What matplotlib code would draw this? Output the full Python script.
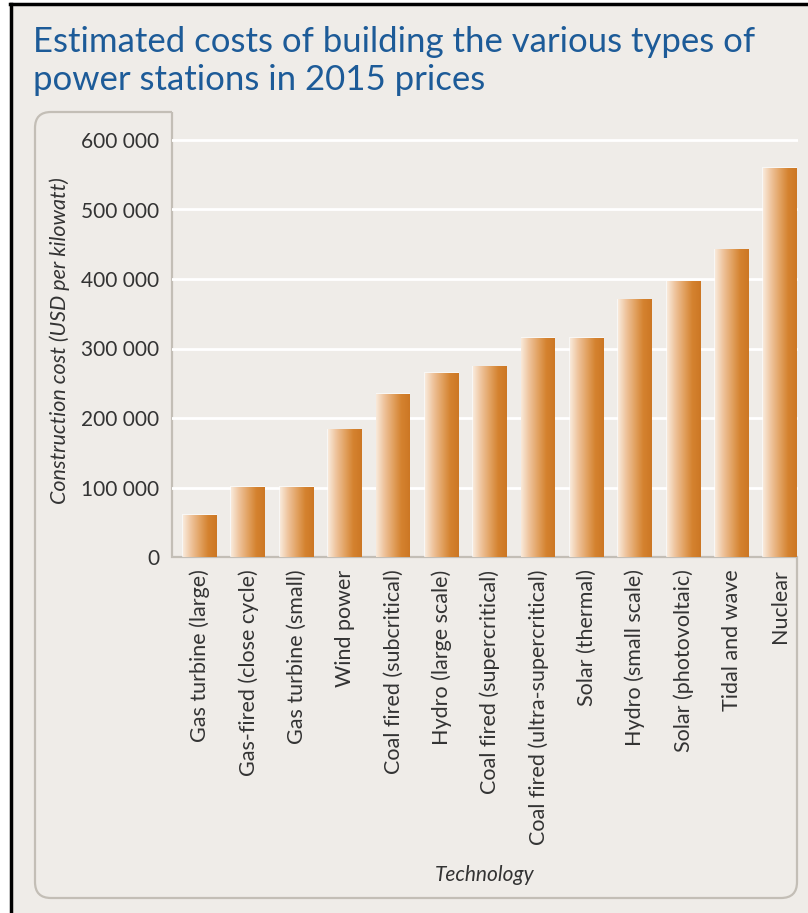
import numpy as np
import matplotlib
matplotlib.use("Agg")
import matplotlib.pyplot as plt
from matplotlib.path import Path
from matplotlib.patches import PathPatch, Rectangle
from matplotlib.colors import LinearSegmentedColormap

plt.rcParams['font.family'] = ['Lato', 'DejaVu Sans']

technologies = [
    "Gas turbine (large)", "Gas-fired (close cycle)", "Gas turbine (small)",
    "Wind power", "Coal fired (subcritical)", "Hydro (large scale)",
    "Coal fired (supercritical)", "Coal fired (ultra-supercritical)",
    "Solar (thermal)", "Hydro (small scale)", "Solar (photovoltaic)",
    "Tidal and wave", "Nuclear",
]
costs = [60000, 100000, 100000, 183000, 234000, 264000, 274000,
         315000, 315000, 370000, 397000, 442000, 559000]
y_ticks = [0, 100000, 200000, 300000, 400000, 500000, 600000]
y_labels = ["0", "100 000", "200 000", "300 000", "400 000", "500 000", "600 000"]

W, H = 808, 913
BG = "#efece8"
FRAME = "#c3beb6"
TXT = "#333333"


def fx(x):
    return x / W


def fy(y):
    return 1 - y / H


fig = plt.figure(figsize=(W / 100, H / 100), dpi=100, facecolor="white")

# panel background with black border on top and left
fig.patches.append(Rectangle((fx(12), 0), 1 - fx(12), fy(5), transform=fig.transFigure,
                             facecolor=BG, edgecolor="none", zorder=-5))
fig.add_artist(plt.Line2D([fx(11), fx(11)], [0, fy(4)], color="black", lw=2.5,
                          transform=fig.transFigure))
fig.add_artist(plt.Line2D([fx(10), 1], [fy(4.5), fy(4.5)], color="black", lw=2.5,
                          transform=fig.transFigure))

fig.text(fx(33), fy(42), "Estimated costs of building the various types of",
         color="#1d5b98", fontsize=25, va="center", ha="left")
fig.text(fx(33), fy(80), "power stations in 2015 prices",
         color="#1d5b98", fontsize=25, va="center", ha="left")

# axes area: x 172..798, y 112..557 (pixels)
ax_l, ax_r, ax_t, ax_b = 172, 798, 112, 557
ax = fig.add_axes([fx(ax_l), fy(ax_b), fx(ax_r - ax_l), (ax_b - ax_t) / H])
ax.set_facecolor("none")
ax.set_zorder(2)
for s in ax.spines.values():
    s.set_visible(False)

# frame outline (L-shaped rounded box)
r1, r2 = 16, 16
verts = [
    (ax_l, ax_t), (35 + r1, ax_t), (35, ax_t), (35, ax_t + r1),
    (35, 898 - r2), (35, 898), (35 + r2, 898),
    (797 - r2, 898), (797, 898), (797, 898 - r2),
    (797, ax_b), (ax_l, ax_b), (ax_l, ax_t),
]
codes = [Path.MOVETO, Path.LINETO, Path.CURVE3, Path.CURVE3,
         Path.LINETO, Path.CURVE3, Path.CURVE3,
         Path.LINETO, Path.CURVE3, Path.CURVE3,
         Path.LINETO, Path.LINETO, Path.LINETO]
verts = [(fx(x), fy(y)) for x, y in verts]
fig.patches.append(PathPatch(Path(verts, codes), transform=fig.transFigure,
                             facecolor="none", edgecolor=FRAME, lw=1.6, zorder=1))

x = np.arange(len(technologies))
ymax = 600000 * (ax_b - ax_t) / (ax_b - 140)

for t in y_ticks[1:]:
    ax.axhline(t, color="white", lw=2, zorder=1)

cmap = LinearSegmentedColormap.from_list(
    "bar", ["#f9eadb", "#eec29a", "#e2a262", "#d4822f", "#cc7724"])
grad = np.linspace(0, 1, 256).reshape(1, -1)
bars = ax.bar(x, costs, width=0.7, color="none", edgecolor="none", zorder=2)
for b in bars:
    x0, w, h = b.get_x(), b.get_width(), b.get_height()
    ax.add_patch(Rectangle((x0 - 0.02, 0), w + 0.02, h + 1500, facecolor="white",
                           edgecolor="none", alpha=0.6, zorder=2))
    ax.imshow(grad, extent=[x0, x0 + w, 0, h], aspect="auto", cmap=cmap,
              interpolation="bilinear", zorder=3)

ax.set_xlim(-0.58, 12.37)
ax.set_ylim(0, ymax)
ax.set_yticks(y_ticks)
ax.set_yticklabels(y_labels)
ax.set_xticks(x)
ax.set_xticklabels(technologies, rotation=90)
ax.tick_params(axis="both", length=0, colors=TXT)
ax.tick_params(axis="y", pad=9, labelsize=15)
ax.tick_params(axis="x", pad=9, labelsize=15.5)

fig.text(fx(60), fy(341), "Construction cost (USD per kilowatt)", rotation=90,
         style="italic", color=TXT, fontsize=15.5, ha="center", va="center")
fig.text(fx(485), fy(875), "Technology", style="italic", color=TXT,
         fontsize=15, ha="center", va="center")

fig.savefig("out.png", dpi=100, facecolor="white")
